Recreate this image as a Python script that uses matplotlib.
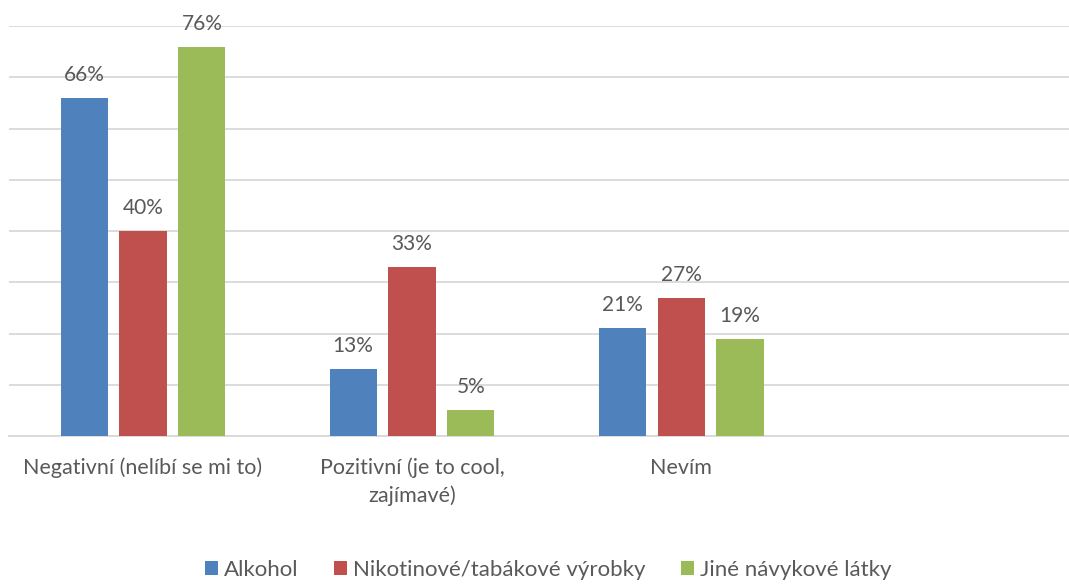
import numpy as np
import matplotlib.pyplot as plt

plt.rcParams['font.family'] = ['Lato', 'DejaVu Sans']

categories = ['Negativní (nelíbí se mi to)', 'Pozitivní (je to cool,\nzajímavé)', 'Nevím']
series = ['Alkohol', 'Nikotinové/tabákové výrobky', 'Jiné návykové látky']
alkohol = [66, 13, 21]
nikotin = [40, 33, 27]
jine = [76, 5, 19]
colors = ['#4f81bd', '#c0504d', '#9bbb59']

text_col = '#595959'
grid_col = '#d9d9d9'

fig = plt.figure(figsize=(10.69, 5.84), dpi=100)
ax = fig.add_axes([9/1069, 1 - 436/584, 1 - 9/1069, (436 - 26)/584])

x = np.arange(len(categories))
w = 0.175
step = 0.219
for i, (name, vals) in enumerate(zip(series, [alkohol, nikotin, jine])):
    pos = x + (i - 1) * step
    ax.bar(pos, vals, w, color=colors[i], label=name, zorder=3)
    for p, v in zip(pos, vals):
        ax.text(p, v + 3.3, f'{v}%', ha='center', va='baseline',
                fontsize=15, color=text_col)

ax.set_xlim(-0.498, 3.442)
ax.set_ylim(0, 80)
ax.set_yticks(np.arange(0, 81, 10))
ax.yaxis.grid(True, color=grid_col, linewidth=1.3, zorder=0)
ax.tick_params(axis='y', left=False, labelleft=False)
ax.tick_params(axis='x', bottom=False, labelsize=15.5, labelcolor=text_col, pad=12)
ax.set_xticks(x)
ax.set_xticklabels(categories, linespacing=1.45)
for s in ['top', 'right', 'left']:
    ax.spines[s].set_visible(False)
ax.spines['bottom'].set_color(grid_col)
ax.spines['bottom'].set_linewidth(1.3)

fig.legend(loc='lower center', bbox_to_anchor=(548/1069, -0.027), ncol=3,
           frameon=False, fontsize=16, labelcolor=text_col,
           handlelength=0.6, handleheight=0.6, handletextpad=0.25,
           columnspacing=1.6)

fig.savefig('out.png', dpi=100)
